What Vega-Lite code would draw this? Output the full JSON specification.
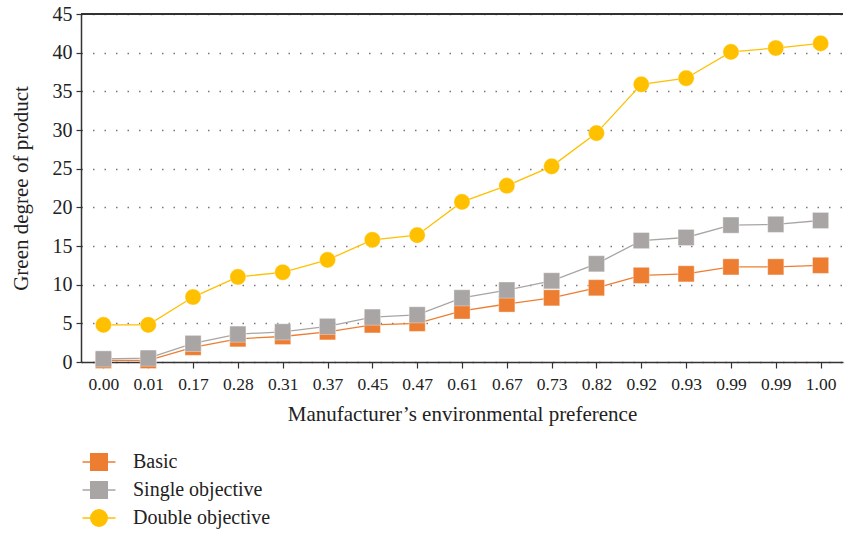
{
  "$schema": "https://vega.github.io/schema/vega-lite/v6.json",
  "width": 762,
  "height": 348,
  "autosize": {"type": "none"},
  "padding": {"left": 81, "top": 14, "right": 2, "bottom": 173},
  "background": "white",
  "config": {
    "view": {"stroke": null},
    "font": "Liberation Serif",
    "axis": {"labelFont": "Liberation Serif", "titleFont": "Liberation Serif", "labelColor": "#222", "titleColor": "#222", "titleFontWeight": "normal"}
  },
  "resolve": {"axis": {"y": "independent"}},
  "data": {
    "values": [
      {"i": 0, "Basic": 0.2, "Single objective": 0.4, "Double objective": 4.8},
      {"i": 1, "Basic": 0.2, "Single objective": 0.5, "Double objective": 4.8},
      {"i": 2, "Basic": 1.9, "Single objective": 2.4, "Double objective": 8.4},
      {"i": 3, "Basic": 3.0, "Single objective": 3.6, "Double objective": 11.0},
      {"i": 4, "Basic": 3.3, "Single objective": 3.9, "Double objective": 11.6},
      {"i": 5, "Basic": 3.9, "Single objective": 4.6, "Double objective": 13.2},
      {"i": 6, "Basic": 4.8, "Single objective": 5.8, "Double objective": 15.8},
      {"i": 7, "Basic": 5.0, "Single objective": 6.1, "Double objective": 16.4},
      {"i": 8, "Basic": 6.6, "Single objective": 8.3, "Double objective": 20.7},
      {"i": 9, "Basic": 7.5, "Single objective": 9.3, "Double objective": 22.8},
      {"i": 10, "Basic": 8.3, "Single objective": 10.5, "Double objective": 25.3},
      {"i": 11, "Basic": 9.6, "Single objective": 12.7, "Double objective": 29.6},
      {"i": 12, "Basic": 11.2, "Single objective": 15.7, "Double objective": 35.9},
      {"i": 13, "Basic": 11.4, "Single objective": 16.1, "Double objective": 36.7},
      {"i": 14, "Basic": 12.3, "Single objective": 17.7, "Double objective": 40.1},
      {"i": 15, "Basic": 12.3, "Single objective": 17.8, "Double objective": 40.6},
      {"i": 16, "Basic": 12.5, "Single objective": 18.3, "Double objective": 41.2}
    ]
  },
  "transform": [
    {"fold": ["Basic", "Single objective", "Double objective"], "as": ["series", "value"]}
  ],
  "layer": [
    {
      "mark": {"type": "rule", "color": "#333", "strokeWidth": 1.5},
      "encoding": {
        "y": {"datum": 45, "type": "quantitative", "scale": {"domain": [0, 45]}, "axis": null}
      }
    },
    {
      "mark": {"type": "line", "strokeWidth": 1.3},
      "encoding": {
        "x": {
          "field": "i", "type": "ordinal",
          "scale": {"type": "point", "padding": 0.5},
          "axis": {
            "title": "Manufacturer’s environmental preference",
            "titleFontSize": 21, "titlePadding": 11,
            "labelFontSize": 17.5, "labelAngle": 0, "labelPadding": 7,
            "labelExpr": "['0.00','0.01','0.17','0.28','0.31','0.37','0.45','0.47','0.61','0.67','0.73','0.82','0.92','0.93','0.99','0.99','1.00'][datum.value]",
            "domainColor": "#333", "domainWidth": 1.5,
            "tickColor": "#333", "tickSize": 6, "tickWidth": 1.2,
            "grid": false
          }
        },
        "y": {
          "field": "value", "type": "quantitative",
          "axis": {
            "title": "Green degree of product",
            "values": [0, 5, 10, 15, 20, 25, 30, 35, 40, 45],
            "titleFontSize": 21, "titlePadding": 21,
            "labelFontSize": 20, "labelPadding": 4,
            "labelOverlap": false,
            "domainColor": "#333", "domainWidth": 1.5,
            "tickColor": "#333", "tickSize": 5, "tickWidth": 1.2,
            "grid": true, "gridColor": "#777", "gridDash": [1.5, 10], "gridWidth": 1.5
          }
        },
        "color": {
          "field": "series", "type": "nominal",
          "scale": {"domain": ["Basic", "Single objective", "Double objective"], "range": ["#ED7D31", "#A9A5A4", "#FFC000"]},
          "legend": {
            "title": null,
            "orient": "none",
            "legendX": 8,
            "legendY": 438,
            "direction": "vertical",
            "symbolType": "M-2,0H2M-1,-1H1V1H-1Z",
            "symbolSize": 272,
            "symbolStrokeWidth": 1.5,
            "labelFont": "Liberation Serif",
            "labelFontSize": 20,
            "labelColor": "#222",
            "labelOffset": 24,
            "rowPadding": 4,
            "encode": {
              "symbols": {
                "update": {
                  "shape": {"signal": "datum.value == 'Double objective' ? 'M-2,0H2M1,0A1,1,0,1,1,-1,0A1,1,0,1,1,1,0Z' : 'M-2,0H2M-1,-1H1V1H-1Z'"},
                  "strokeWidth": {"value": 1.5},
                  "opacity": {"value": 1}
                }
              }
            }
          }
        }
      }
    },
    {
      "transform": [{"filter": "datum.series != 'Double objective'"}],
      "mark": {"type": "point", "shape": "square", "filled": true, "opacity": 1, "size": 260, "stroke": "white", "strokeWidth": 0.6, "strokeOpacity": 0.6},
      "encoding": {
        "x": {"field": "i", "type": "ordinal"},
        "y": {"field": "value", "type": "quantitative", "axis": null},
        "color": {"field": "series", "type": "nominal", "legend": null}
      }
    },
    {
      "transform": [{"filter": "datum.series == 'Double objective'"}],
      "mark": {"type": "point", "shape": "circle", "filled": true, "opacity": 1, "size": 260, "stroke": "white", "strokeWidth": 0.6, "strokeOpacity": 0.6},
      "encoding": {
        "x": {"field": "i", "type": "ordinal"},
        "y": {"field": "value", "type": "quantitative", "axis": null},
        "color": {"field": "series", "type": "nominal", "legend": null}
      }
    }
  ]
}
